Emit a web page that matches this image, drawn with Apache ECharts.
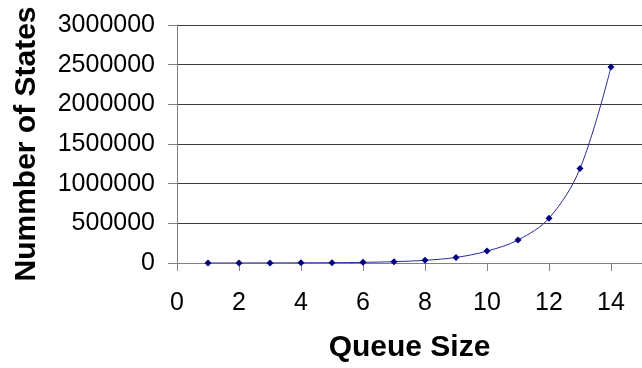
<!DOCTYPE html>
<html>
<head>
<meta charset="utf-8">
<script src="https://cdn.jsdelivr.net/npm/echarts@6/dist/echarts.min.js"></script>
<style>
  html, body { margin: 0; padding: 0; background: #fff; }
  #chart { width: 642px; height: 368px; }
</style>
</head>
<body>
<div id="chart"></div>
<script>
// queue size vs number of states
const queueSizes = [1, 2, 3, 4, 5, 6, 7, 8, 9, 10, 11, 12, 13, 14];
const stateCounts = [250, 500, 1000, 2000, 4000, 8000, 17000, 34000, 70000, 150000, 290000, 565000, 1190000, 2470000];
const xTitle = 'Queue Size';
const yTitle = 'Nummber of States';

const font = 'Liberation Sans, Arial, sans-serif';
const axisGray = '#808080';

const chart = echarts.init(document.getElementById('chart'));

chart.setOption({
  animation: false,
  backgroundColor: '#fff',
  grid: {
    left: 177,
    top: 25,
    width: 475,
    height: 240,
  },
  xAxis: {
    type: 'value',
    min: 0,
    max: 15,
    interval: 2,
    name: xTitle,
    nameLocation: 'middle',
    nameGap: 70,
    nameTextStyle: { fontFamily: font, fontSize: 30, fontWeight: 'bold', color: '#000' },
    axisLine: { show: true, lineStyle: { color: axisGray, width: 1 } },
    axisTick: { show: true, length: 8, lineStyle: { color: axisGray } },
    axisLabel: {
      showMaxLabel: false,
      margin: 28,
      fontFamily: font,
      fontSize: 25,
      color: '#000',
    },
    splitLine: { show: false },
  },
  yAxis: {
    type: 'value',
    min: 0,
    max: 3000000,
    interval: 500000,
    name: yTitle,
    nameLocation: 'middle',
    nameGap: 135,
    nameRotate: 90,
    nameTextStyle: { fontFamily: font, fontSize: 30, fontWeight: 'bold', color: '#000' },
    axisLine: { show: true, lineStyle: { color: axisGray, width: 1 } },
    axisTick: { show: true, length: 9, lineStyle: { color: axisGray } },
    axisLabel: {
      margin: 22,
      fontFamily: font,
      fontSize: 25,
      color: '#000',
      formatter: (v) => String(v),
    },
    splitLine: { show: true, lineStyle: { color: '#3a3a3a', width: 1 } },
  },
  series: [
    {
      type: 'line',
      data: queueSizes.map((q, i) => [q, stateCounts[i]]),
      smooth: 0.35,
      symbol: 'diamond',
      symbolSize: 7,
      lineStyle: { color: '#2a2a9a', width: 1 },
      itemStyle: { color: '#000080' },
    },
  ],
});
</script>
</body>
</html>
